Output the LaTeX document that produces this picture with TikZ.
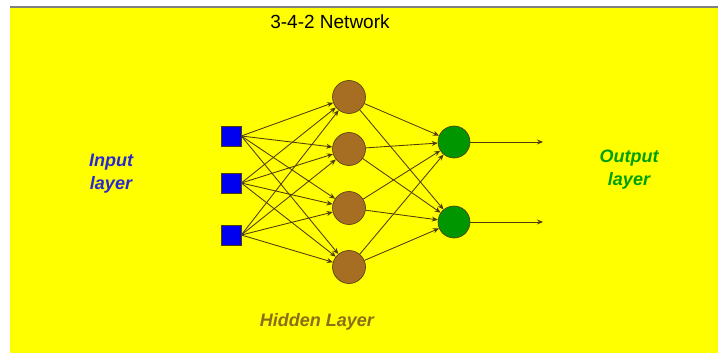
\documentclass[tikz,border=0pt]{standalone}
\usepackage{fontspec}
\setmainfont{Liberation Sans}
\usetikzlibrary{arrows.meta}
\definecolor{bgyellow}{RGB}{255,255,0}
\definecolor{inblue}{RGB}{0,0,240}
\definecolor{hidbrown}{RGB}{165,110,35}
\definecolor{outgreen}{RGB}{0,150,0}
\definecolor{edgecol}{RGB}{80,60,10}
\definecolor{hidtext}{RGB}{140,110,25}
\definecolor{intext}{RGB}{40,40,210}
\definecolor{outtext}{RGB}{0,160,0}
\begin{document}
\begin{tikzpicture}[x=1pt,y=-1pt,
  inbox/.style={draw=edgecol,fill=inblue,minimum size=20pt,inner sep=0pt,line width=0.6pt},
  hidcirc/.style={circle,draw=edgecol,fill=hidbrown,minimum size=33pt,inner sep=0pt,line width=0.6pt},
  outcirc/.style={circle,draw=edgecol,fill=outgreen,minimum size=32pt,inner sep=0pt,line width=0.6pt},
  conn/.style={draw=edgecol,line width=0.85pt,-{Stealth[length=6pt,width=5pt]}},
  lbl/.style={font=\fontsize{18}{23}\selectfont\bfseries\itshape,align=center}]
\useasboundingbox (0,0) rectangle (718,353);
\fill[white] (0,0) rectangle (718,353);
\fill[bgyellow] (10,8) rectangle (718,353);
\draw[gray,line width=2pt] (10,7) -- (718,7);

\node[font=\fontsize{19}{22}\selectfont] (title) at (330,22) {3-4-2 Network};

\node[inbox] (i1) at (231,136) {};
\node[inbox] (i2) at (231,183) {};
\node[inbox] (i3) at (231,235) {};

\node[hidcirc] (h1) at (349,97) {};
\node[hidcirc] (h2) at (349,149) {};
\node[hidcirc] (h3) at (349,208) {};
\node[hidcirc] (h4) at (349,267) {};

\node[outcirc] (o1) at (454,142) {};
\node[outcirc] (o2) at (454,222) {};

\coordinate (e1) at (543,142);
\coordinate (e2) at (543,222);

\foreach \i in {1,2,3}{
  \foreach \h in {1,2,3,4}{
    \draw[conn] (i\i.east) -- (h\h);
  }
}
\foreach \h in {1,2,3,4}{
  \foreach \o in {1,2}{
    \draw[conn] (h\h) -- (o\o);
  }
}
\draw[conn] (o1) -- (e1);
\draw[conn] (o2) -- (e2);

\node[lbl,text=intext] (inl) at (111,174) {Input\\layer};
\node[lbl,text=outtext] (outl) at (629,170) {Output\\layer};
\node[lbl,text=hidtext] (hidl) at (317,322) {Hidden Layer};
\end{tikzpicture}
\end{document}
